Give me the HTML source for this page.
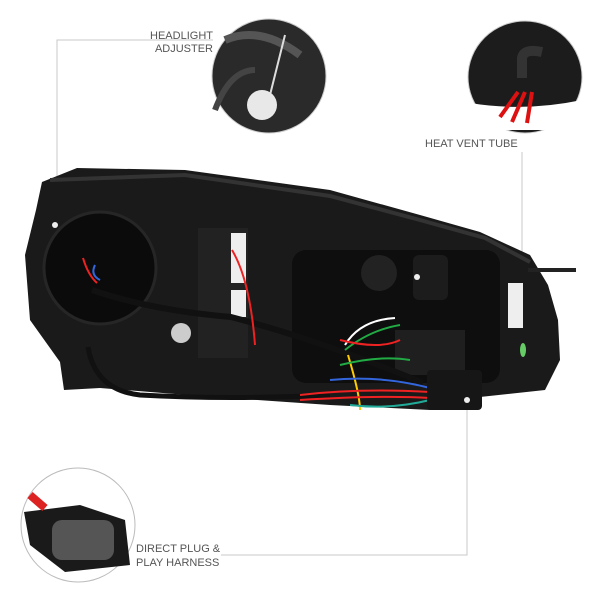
<!DOCTYPE html><html><head><style>body{margin:0;background:#fff}svg{display:block}text{font-family:"Liberation Sans",sans-serif;font-size:11px;fill:#555}</style></head><body>
<svg width="600" height="600" viewBox="0 0 600 600">
<g stroke="#c8c8c8" stroke-width="1" fill="none">
<polyline points="213,40 57,40 57,225"/>
<polyline points="522,152 522,277 417,277"/>
<polyline points="221,555 467,555 467,400"/>
</g>
<!-- headlight body -->
<path d="M42,182 L77,168 L185,170 L330,190 L420,215 L480,232 L530,255 L548,285 L558,320 L560,360 L545,390 L480,397 L430,410 L330,405 L200,396 L100,388 L64,390 L60,362 L30,320 L25,255 L36,210 Z" fill="#1a1a1a"/>
<path d="M50,180 L185,175 L330,196 L420,220 L485,238 L530,262" stroke="#333" stroke-width="4" fill="none"/>
<rect x="528" y="268" width="48" height="4" fill="#222"/>
<rect x="292" y="250" width="208" height="133" rx="14" fill="#0e0e0e"/>
<circle cx="100" cy="268" r="56" fill="#0b0b0b" stroke="#262626" stroke-width="3"/>
<rect x="198" y="228" width="50" height="130" fill="#222"/>
<rect x="231" y="233" width="15" height="50" fill="#eee"/>
<rect x="231" y="290" width="15" height="27" fill="#eee"/>
<circle cx="181" cy="333" r="10" fill="#ccc"/>
<circle cx="55" cy="225" r="3" fill="#eee"/>
<circle cx="379" cy="273" r="18" fill="#222"/>
<rect x="413" y="255" width="35" height="45" rx="6" fill="#1c1c1c"/>
<rect x="508" y="283" width="15" height="45" fill="#eee"/>
<ellipse cx="523" cy="350" rx="3" ry="7" fill="#6c6"/>
<rect x="395" y="330" width="70" height="45" fill="#1f1f1f"/>
<!-- cables -->
<path d="M92,290 Q150,310 231,317 Q320,340 423,383" stroke="#111" stroke-width="6" fill="none"/>
<path d="M88,347 Q95,390 140,395 Q230,400 330,395" stroke="#111" stroke-width="5" fill="none"/>
<g fill="none" stroke-width="2">
<path d="M345,345 Q360,320 395,318" stroke="#fff"/>
<path d="M345,350 Q370,330 400,325" stroke="#2a4"/>
<path d="M348,355 Q360,395 360,410" stroke="#fc0"/>
<path d="M340,340 Q380,350 400,340" stroke="#e22"/>
<path d="M340,365 Q380,355 410,360" stroke="#2a4"/>
<path d="M330,380 Q380,375 430,388" stroke="#36d"/>
<path d="M300,395 Q360,388 430,392" stroke="#e22"/>
<path d="M300,400 Q380,395 430,398" stroke="#e22"/>
<path d="M350,405 Q390,410 430,400" stroke="#2a9"/>
<path d="M232,250 Q250,280 255,345" stroke="#e22"/>
<path d="M83,258 Q88,275 97,283" stroke="#e22"/>
<path d="M95,265 Q90,275 100,280" stroke="#36d"/>
</g>
<rect x="427" y="370" width="55" height="40" rx="4" fill="#161616"/>
<circle cx="467" cy="400" r="3" fill="#eee"/>
<circle cx="417" cy="277" r="3" fill="#eee"/>
<!-- circles -->
<circle cx="269" cy="76" r="57" fill="#2a2a2a" stroke="#ccc"/>
<path d="M225,40 Q260,25 300,55" stroke="#555" stroke-width="8" fill="none"/>
<path d="M215,110 Q230,70 255,70" stroke="#444" stroke-width="6" fill="none"/>
<line x1="285" y1="35" x2="270" y2="95" stroke="#ddd" stroke-width="2"/>
<circle cx="262" cy="105" r="15" fill="#e8e8e8"/>
<ellipse cx="525" cy="77" rx="57" ry="56" fill="#1c1c1c" stroke="#ccc"/>
<path d="M470,103 Q525,112 582,100 L582,130 L470,130 Z" fill="#fff"/>
<path d="M522,78 L522,58 Q524,48 542,52" stroke="#333" stroke-width="10" fill="none"/>
<g stroke="#d11" stroke-width="4" fill="none"><path d="M518,92 L500,117"/><path d="M525,92 L512,122"/><path d="M532,92 L527,123"/></g>
<ellipse cx="78" cy="525" rx="57" ry="57" fill="#fff" stroke="#bbb"/>
<path d="M24,512 L80,505 L125,520 L130,565 L65,572 L30,545 Z" fill="#1a1a1a"/>
<rect x="52" y="520" width="62" height="40" rx="10" fill="#555"/>
<path d="M30,495 L45,508" stroke="#d22" stroke-width="8"/>
<text x="213" y="39" text-anchor="end">HEADLIGHT</text>
<text x="213" y="52" text-anchor="end">ADJUSTER</text>
<text x="425" y="147">HEAT VENT TUBE</text>
<text x="136" y="552">DIRECT PLUG &amp;</text>
<text x="136" y="566">PLAY HARNESS</text>
</svg></body></html>
